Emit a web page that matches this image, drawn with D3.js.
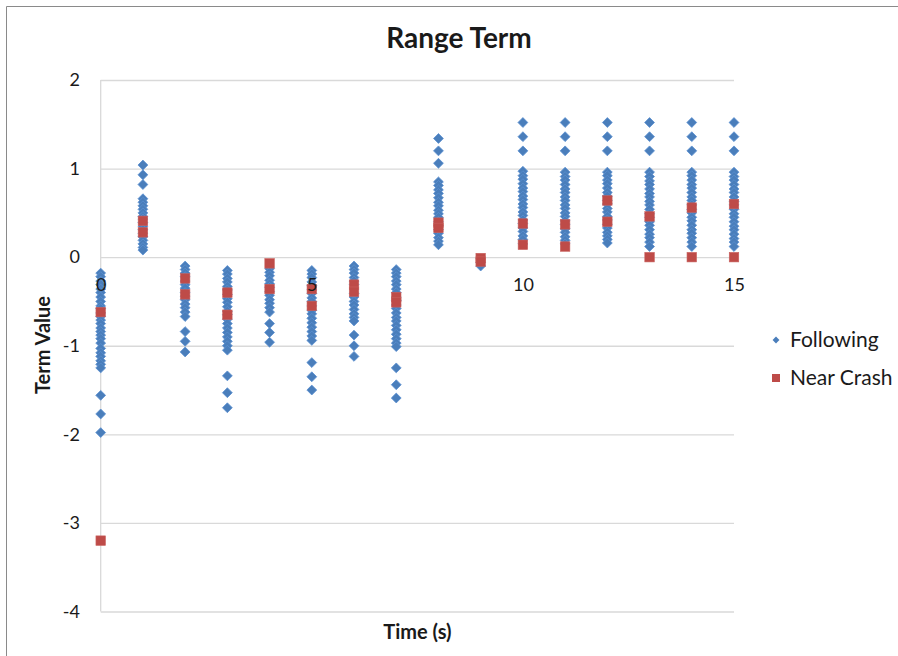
<!DOCTYPE html>
<html>
<head>
<meta charset="utf-8">
<script src="https://cdn.jsdelivr.net/npm/d3@7"></script>
<style>
  html, body { margin: 0; padding: 0; background: #ffffff; }
  svg { display: block; font-family: Lato, "Open Sans", sans-serif; }
</style>
</head>
<body>
<svg id="chart" width="898" height="656"></svg>
<script>
// Time steps (s) at which the range term was sampled
const timeSteps = [0, 1, 2, 3, 4, 5, 6, 7, 8, 9, 10, 11, 12, 13, 14, 15];

// Following episodes: term values per time step
const followingValues = [
  [-0.18, -0.22, -0.27, -0.31, -0.36, -0.40, -0.45, -0.50, -0.55, -0.58, -0.63, -0.67, -0.71, -0.75, -0.80, -0.84, -0.88, -0.92, -0.97, -1.03, -1.08, -1.12, -1.17, -1.21, -1.25, -1.56, -1.77, -1.98],
  [1.04, 0.93, 0.82, 0.66, 0.62, 0.58, 0.54, 0.50, 0.46, 0.43, 0.39, 0.35, 0.31, 0.27, 0.23, 0.19, 0.15, 0.11, 0.08],
  [-0.10, -0.14, -0.18, -0.22, -0.27, -0.31, -0.35, -0.40, -0.44, -0.48, -0.53, -0.57, -0.62, -0.67, -0.84, -0.95, -1.07],
  [-0.15, -0.19, -0.24, -0.28, -0.33, -0.37, -0.42, -0.47, -0.51, -0.56, -0.61, -0.65, -0.70, -0.75, -0.80, -0.85, -0.90, -0.95, -1.00, -1.05, -1.34, -1.53, -1.70],
  [-0.13, -0.17, -0.21, -0.26, -0.30, -0.34, -0.39, -0.43, -0.48, -0.52, -0.57, -0.62, -0.75, -0.85, -0.96],
  [-0.15, -0.19, -0.23, -0.28, -0.32, -0.37, -0.41, -0.46, -0.50, -0.55, -0.60, -0.64, -0.69, -0.74, -0.79, -0.84, -0.89, -0.94, -1.19, -1.35, -1.50],
  [-0.10, -0.14, -0.18, -0.23, -0.27, -0.31, -0.36, -0.41, -0.45, -0.50, -0.54, -0.59, -0.64, -0.68, -0.72, -0.88, -1.00, -1.12],
  [-0.14, -0.18, -0.22, -0.27, -0.31, -0.36, -0.40, -0.45, -0.49, -0.54, -0.58, -0.63, -0.68, -0.72, -0.77, -0.82, -0.87, -0.92, -0.97, -1.01, -1.25, -1.44, -1.59],
  [1.34, 1.20, 1.06, 0.85, 0.81, 0.76, 0.72, 0.67, 0.62, 0.58, 0.53, 0.49, 0.45, 0.40, 0.36, 0.31, 0.27, 0.22, 0.18, 0.14],
  [-0.02, -0.06, -0.10],
  [1.52, 1.36, 1.20, 0.97, 0.92, 0.88, 0.83, 0.78, 0.74, 0.69, 0.65, 0.60, 0.56, 0.51, 0.47, 0.42, 0.38, 0.33, 0.29, 0.24, 0.20, 0.15],
  [1.52, 1.36, 1.20, 0.96, 0.91, 0.87, 0.82, 0.77, 0.73, 0.68, 0.64, 0.59, 0.55, 0.50, 0.46, 0.41, 0.37, 0.32, 0.28, 0.23, 0.19, 0.15],
  [1.52, 1.36, 1.20, 0.96, 0.92, 0.87, 0.83, 0.78, 0.73, 0.69, 0.64, 0.60, 0.55, 0.51, 0.46, 0.42, 0.37, 0.33, 0.28, 0.24, 0.20, 0.16],
  [1.52, 1.36, 1.20, 0.96, 0.91, 0.86, 0.82, 0.77, 0.72, 0.68, 0.63, 0.59, 0.54, 0.49, 0.45, 0.40, 0.36, 0.31, 0.26, 0.22, 0.17, 0.12],
  [1.52, 1.36, 1.20, 0.96, 0.92, 0.87, 0.82, 0.78, 0.73, 0.68, 0.64, 0.59, 0.54, 0.50, 0.45, 0.41, 0.36, 0.31, 0.27, 0.22, 0.17, 0.12],
  [1.52, 1.36, 1.20, 0.96, 0.91, 0.87, 0.82, 0.77, 0.73, 0.68, 0.63, 0.59, 0.54, 0.49, 0.45, 0.40, 0.35, 0.31, 0.26, 0.21, 0.17, 0.12]
];

// Near-crash episodes: term values per time step
const nearCrashValues = [
  [-0.62, -3.20],
  [0.41, 0.28],
  [-0.24, -0.42],
  [-0.40, -0.65],
  [-0.07, -0.36],
  [-0.36, -0.55],
  [-0.31, -0.39],
  [-0.45, -0.51],
  [0.39, 0.33],
  [-0.01, -0.05],
  [0.38, 0.14],
  [0.37, 0.12],
  [0.64, 0.40],
  [0.46, 0.00],
  [0.56, 0.00],
  [0.60, 0.00]
];

const xTicks = [0, 5, 10, 15];
const yTicks = [2, 1, 0, -1, -2, -3, -4];
const seriesNames = ["Following", "Near Crash"];
const seriesColors = ["#4a7ebb", "#be4b48"];

const svg = d3.select("#chart");

const x = d3.scaleLinear().domain([0, 15]).range([100.7, 734]);
const y = d3.scaleLinear().domain([-4, 2]).range([611.5, 80]);

// Plain hyphen-minus labels, e.g. "-3"
const plainNumber = d => String(d);

// Outer chart frame
svg.append("path")
  .attr("d", "M6.5,660 L6.5,6.5 L900,6.5")
  .attr("fill", "none")
  .attr("stroke", "#8a8a8a")
  .attr("stroke-width", 1);

// Horizontal gridlines
const grid = d3.axisLeft(y).tickValues(yTicks).tickSize(-(x(15) - x(0))).tickFormat("");
svg.append("g")
  .attr("transform", `translate(${x(0)},0)`)
  .call(grid)
  .call(g => g.select(".domain").remove())
  .call(g => g.selectAll(".tick line").attr("stroke", "#d9d9d9").attr("stroke-width", 1.3));

// Vertical axis line
svg.append("line")
  .attr("x1", x(0)).attr("x2", x(0))
  .attr("y1", y(2)).attr("y2", y(-4))
  .attr("stroke", "#d9d9d9").attr("stroke-width", 1.3);

// Flatten the series into point records
const followingPoints = timeSteps.flatMap((t, i) => followingValues[i].map(v => ({ t, v })));
const nearCrashPoints = timeSteps.flatMap((t, i) => nearCrashValues[i].map(v => ({ t, v })));

const diamond = d3.symbol().type(d3.symbolDiamond2).size(62);
svg.append("g").selectAll("path")
  .data(followingPoints)
  .join("path")
  .attr("d", diamond)
  .attr("transform", d => `translate(${x(d.t)},${y(d.v)})`)
  .attr("fill", seriesColors[0])
  .attr("stroke", "#5b8fd0")
  .attr("stroke-width", 0.8);

const sq = 9.5;
svg.append("g").selectAll("rect")
  .data(nearCrashPoints)
  .join("rect")
  .attr("x", d => x(d.t) - sq / 2)
  .attr("y", d => y(d.v) - sq / 2)
  .attr("width", sq)
  .attr("height", sq)
  .attr("fill", seriesColors[1])
  .attr("stroke", "#c9605d")
  .attr("stroke-width", 0.6);

// Y tick labels
const yAxis = d3.axisLeft(y).tickValues(yTicks).tickSize(0).tickPadding(0).tickFormat(plainNumber);
svg.append("g")
  .attr("transform", "translate(80,0)")
  .call(yAxis)
  .call(g => g.select(".domain").remove())
  .call(g => g.selectAll("text")
    .attr("font-family", "Lato, sans-serif")
    .attr("font-size", 18)
    .attr("fill", "#1a1a1a"));

// X tick labels, hung from the zero line
const xAxis = d3.axisBottom(x).tickValues(xTicks).tickSize(0).tickPadding(0).tickFormat(plainNumber);
svg.append("g")
  .attr("transform", `translate(0,${y(0) + 21})`)
  .call(xAxis)
  .call(g => g.select(".domain").remove())
  .call(g => g.selectAll("text")
    .attr("font-family", "Lato, sans-serif")
    .attr("font-size", 18)
    .attr("fill", "#1a1a1a"));

// Titles
svg.append("text")
  .attr("x", 459).attr("y", 48)
  .attr("text-anchor", "middle")
  .attr("font-size", 28).attr("font-weight", "bold")
  .attr("fill", "#1a1a1a")
  .text("Range Term");

svg.append("text")
  .attr("x", x(7.5)).attr("y", 639)
  .attr("text-anchor", "middle")
  .attr("font-size", 20).attr("font-weight", "bold")
  .attr("fill", "#1a1a1a")
  .text("Time (s)");

svg.append("text")
  .attr("transform", "translate(50,345) rotate(-90)")
  .attr("text-anchor", "middle")
  .attr("font-size", 20).attr("font-weight", "bold")
  .attr("fill", "#1a1a1a")
  .text("Term Value");

// Legend
const legend = svg.append("g");
const legendRows = [{ y: 340 }, { y: 378 }];
legend.append("path")
  .attr("d", d3.symbol().type(d3.symbolDiamond2).size(30))
  .attr("transform", `translate(776,${legendRows[0].y})`)
  .attr("fill", seriesColors[0]);
legend.append("rect")
  .attr("x", 772).attr("y", legendRows[1].y - 4)
  .attr("width", 8).attr("height", 8)
  .attr("fill", seriesColors[1]);
legend.selectAll("text")
  .data(seriesNames)
  .join("text")
  .attr("x", 790)
  .attr("y", (d, i) => legendRows[i].y + 7)
  .attr("font-size", 21)
  .attr("fill", "#1a1a1a")
  .text(d => d);
</script>
</body>
</html>
